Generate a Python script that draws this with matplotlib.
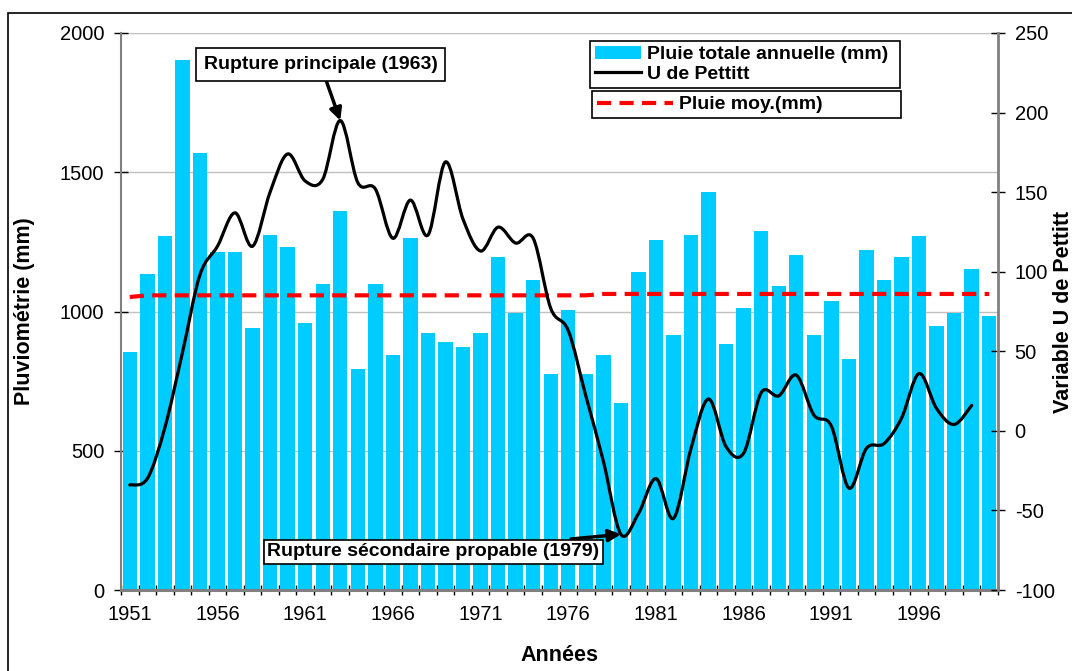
import numpy as np
import matplotlib
matplotlib.use("Agg")
import matplotlib.pyplot as plt
from matplotlib.path import Path
from matplotlib.patches import PathPatch, Rectangle
from matplotlib.lines import Line2D

plt.rcParams['font.family'] = ['Liberation Sans', 'DejaVu Sans']
plt.rcParams['axes.unicode_minus'] = False

# pluie annuelle 1951-2000 (mm)
annees = list(range(1951, 2001))
pluie = [855, 1135, 1271, 1903, 1570, 1215, 1215, 941, 1275, 1232,
         959, 1099, 1361, 794, 1099, 844, 1264, 923, 890, 872,
         923, 1196, 996, 1113, 776, 1005, 776, 844, 671, 1142,
         1257, 916, 1275, 1429, 883, 1013, 1289, 1092, 1203, 916,
         1038, 829, 1221, 1113, 1196, 1271, 948, 995, 1153, 984]
pluie_moy = [1052, 1058, 1058, 1058, 1058, 1058, 1058, 1058, 1058, 1058,
             1058, 1058, 1058, 1058, 1058, 1058, 1058, 1058, 1058, 1058,
             1058, 1058, 1058, 1058, 1058, 1058, 1058, 1063, 1063, 1063,
             1063, 1063, 1063, 1063, 1063, 1063, 1063, 1063, 1063, 1063,
             1063, 1063, 1063, 1063, 1063, 1063, 1063, 1063, 1063, 1063]
# statistique U de Pettitt, 1951-1999
u_pettitt = [-34, -30, 2, 49, 98, 116, 137, 116, 150, 174,
             157, 158, 195, 156, 152, 121, 145, 123, 169, 133,
             113, 128, 118, 121, 77, 63, 22, -19, -65, -52,
             -30, -55, -11, 20, -10, -14, 24, 22, 35, 10,
             3, -36, -11, -8, 8, 36, 14, 4, 16]


def courbe_lissee(xs, ys):
    # courbe lissée type Excel (Catmull-Rom -> Bezier)
    pts = np.column_stack([xs, ys]).astype(float)
    ext = np.vstack([pts[0], pts, pts[-1]])
    verts = [pts[0]]
    codes = [Path.MOVETO]
    for i in range(len(pts) - 1):
        p0, p1, p2, p3 = ext[i], ext[i + 1], ext[i + 2], ext[i + 3]
        verts += [p1 + (p2 - p0) / 6, p2 - (p3 - p1) / 6, p2]
        codes += [Path.CURVE4] * 3
    return Path(verts, codes)


W, H = 1072, 671
fig = plt.figure(figsize=(W / 100, H / 100), dpi=100)
ax = fig.add_axes([121 / W, 1 - 590 / H, 877 / W, 557 / H])
ax2 = ax.twinx()

x = np.arange(len(annees))
bars = ax.bar(x, pluie, width=0.82, color='#00ccff', zorder=2)
ax.plot(x, pluie_moy, color='#ff0000', lw=3, dashes=(3.4, 2), zorder=3)

ax.set_xlim(-0.5, len(annees) - 0.5)
ax.set_ylim(0, 2000)
ax.set_yticks(range(0, 2001, 500))
ax.yaxis.grid(True, color='#c0c0c0', lw=1)
ax.set_axisbelow(True)

ax.set_xticks(x[::5])
ax.set_xticklabels([str(a) for a in annees[::5]])
ax.set_xticks(np.arange(-0.5, len(annees), 1), minor=True)
ax.tick_params(axis='x', which='major', length=0, pad=11, labelsize=14.5)
ax.tick_params(axis='x', which='minor', direction='inout', length=7, width=1, color='black')
ax.tick_params(axis='y', direction='inout', length=10, width=1, pad=7, labelsize=14.5)

x_u = np.arange(len(u_pettitt))
ax2.add_patch(PathPatch(courbe_lissee(x_u, u_pettitt), fill=False, ec='black',
                        lw=2.3, zorder=4, capstyle='round', joinstyle='round'))
ax2.set_ylim(-100, 250)
ax2.set_yticks(range(-100, 251, 50))
ax2.tick_params(axis='y', direction='inout', length=10, width=1, pad=7, labelsize=14.5)

for s in ['top', 'right']:
    ax.spines[s].set_visible(False)
for s in ['top', 'left', 'bottom']:
    ax2.spines[s].set_visible(False)
ax.spines['left'].set_color('#808080')
ax.spines['left'].set_linewidth(1.5)
ax.spines['bottom'].set_color('#808080')
ax.spines['bottom'].set_linewidth(2.2)
ax2.spines['right'].set_color('#808080')
ax2.spines['right'].set_linewidth(2)

ax.set_ylabel('Pluviométrie (mm)', fontsize=15.5, fontweight='bold')
ax.yaxis.set_label_coords(-0.098, 0.5)
ax2.set_ylabel('Variable U de Pettitt', fontsize=15.5, fontweight='bold')
ax2.yaxis.set_label_coords(1.0627, 0.5)
ax.set_xlabel('Années', fontsize=15.5, fontweight='bold')
ax.xaxis.set_label_coords(0.5, -0.0987)

# ruptures
fleche = dict(arrowstyle='-|>', color='black', lw=2.5, mutation_scale=18, shrinkA=0, shrinkB=0)
cadre = dict(boxstyle='square,pad=0.4', fc='white', ec='black', lw=1.2)
i63 = annees.index(1963)
ax2.annotate('Rupture principale (1963)', xy=(i63, u_pettitt[i63]),
             xytext=(320.5 / W, 1 - 64.5 / H), textcoords='figure fraction',
             ha='center', va='center', fontsize=14, fontweight='bold',
             bbox=cadre, arrowprops=fleche, zorder=6)
i79 = annees.index(1979)
ax2.annotate('Rupture sécondaire propable (1979)', xy=(i79, u_pettitt[i79]),
             xytext=(433.5 / W, 1 - 552 / H), textcoords='figure fraction',
             ha='center', va='center', fontsize=14, fontweight='bold',
             bbox=dict(boxstyle='square,pad=0.2', fc='white', ec='black', lw=1.2),
             arrowprops=fleche, zorder=6)

# légendes
h_u = Line2D([], [], color='black', lw=2.3)
leg1 = fig.legend([bars, h_u], ['Pluie totale annuelle (mm)', 'U de Pettitt'],
                  loc='upper left', bbox_to_anchor=(590 / W, 1 - 91 / H, 310 / W, 50 / H),
                  mode='expand', prop=dict(weight='bold', size=14),
                  handlelength=2.37, handletextpad=0.3, borderpad=0.25,
                  labelspacing=0.1, borderaxespad=0, fancybox=False,
                  edgecolor='black', framealpha=1)
leg1.get_frame().set_linewidth(1.2)
h_moy = Line2D([], [], color='#ff0000', lw=3, dashes=(3.4, 2))
leg2 = fig.legend([h_moy], ['Pluie moy.(mm)'],
                  loc='upper left', bbox_to_anchor=(592 / W, 1 - 122 / H, 309 / W, 31 / H),
                  mode='expand', prop=dict(weight='bold', size=14),
                  handlelength=3.9, handletextpad=0.3, borderpad=0.25,
                  borderaxespad=0, fancybox=False, edgecolor='black', framealpha=1)
leg2.get_frame().set_linewidth(1.2)

fig.add_artist(Rectangle((8 / W, -0.05), 1.2, 1 - 13 / H + 0.05, transform=fig.transFigure,
                         fill=False, ec='black', lw=1.2, clip_on=False))

fig.savefig('out.png', dpi=100)
